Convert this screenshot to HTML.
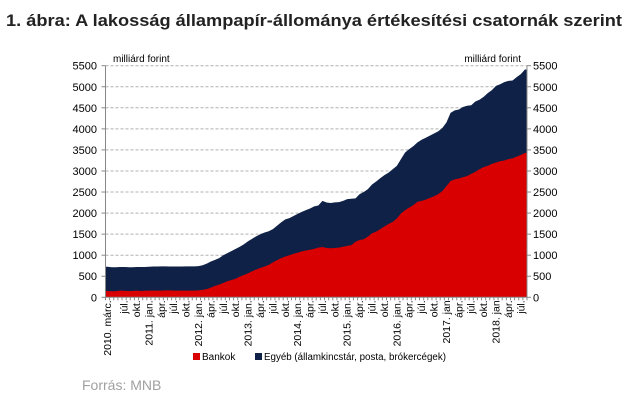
<!DOCTYPE html>
<html><head><meta charset="utf-8"><style>
body{margin:0;background:#fff;width:630px;height:405px;overflow:hidden}
svg{display:block;font-family:"Liberation Sans",sans-serif}
</style></head><body>
<svg id="c" width="630" height="405" viewBox="0 0 630 405">
<text x="6" y="26" font-size="17" font-weight="bold" fill="#222" textLength="616" lengthAdjust="spacingAndGlyphs">1. ábra: A lakosság állampapír-állománya értékesítési csatornák szerint</text>
<text x="113" y="62" font-size="10" fill="#000">milliárd forint</text>
<text x="521" y="62" font-size="10" fill="#000" text-anchor="end">milliárd forint</text>
<g id="grid"></g><g id="areas"></g><g id="axes"></g>
<g>
<rect x="193" y="353" width="7" height="7" fill="#d80000"/>
<text x="202" y="360" font-size="10">Bankok</text>
<rect x="255" y="353" width="7" height="7" fill="#0f2147"/>
<text x="264" y="360" font-size="10" textLength="182" lengthAdjust="spacingAndGlyphs">Egyéb (államkincstár, posta, brókercégek)</text>
</g>
<text x="82" y="390" font-size="14" fill="#a0a0a0">Forrás: MNB</text>
</svg>
<script>
const totalValues=[725,715,715,720,720,715,715,720,720,720,
725,730,730,735,735,730,730,730,730,735,735,735,
740,760,800,850,890,930,1000,1050,1100,1150,1200,1260,
1330,1390,1450,1500,1540,1570,1620,1700,1780,1850,1880,1930,
1980,2030,2070,2110,2160,2180,2290,2250,2240,2255,2260,2290,
2330,2340,2350,2450,2500,2570,2680,2750,2830,2900,2960,3040,
3120,3280,3440,3520,3590,3680,3740,3790,3840,3890,3940,4020,
4150,4380,4440,4460,4520,4550,4560,4650,4690,4760,4850,4920,
5020,5060,5110,5140,5150,5230,5300,5410];
const bankValues=[150,145,145,160,155,150,150,160,150,155,
160,160,160,160,165,165,160,160,160,160,160,160,
165,175,195,230,270,300,340,380,410,440,490,530,
570,620,660,700,730,770,830,880,930,970,1000,1030,
1060,1090,1110,1130,1150,1180,1195,1170,1165,1170,1180,1200,
1220,1240,1320,1360,1380,1440,1520,1560,1620,1680,1740,1790,
1870,1990,2070,2130,2190,2270,2290,2320,2360,2400,2450,2520,
2640,2760,2800,2820,2850,2880,2930,2980,3040,3090,3120,3170,
3200,3230,3250,3280,3300,3340,3380,3430];
const yTicks=[0,500,1000,1500,2000,2500,3000,3500,4000,4500,5000,5500];
const xLabelIdx=[0,4,7,10,13,16,19,22,25,28,31,34,37,40,43,46,49,52,55,58,61,64,67,70,73,76,79,82,85,88,91,94,97,100];
const xLabels=["2010. márc.","júl.","okt.","2011. jan.","ápr.","júl.","okt.","2012. jan.","ápr.","júl.","okt.","2013. jan.","ápr.","júl.","okt.","2014. jan.","ápr.","júl.","okt.","2015. jan.","ápr.","júl.","okt.","2016. jan.","ápr.","júl.","okt.","2017. jan","ápr.","júl.","okt.","2018. jan","ápr.","júl."];
const NS="http://www.w3.org/2000/svg";
const L=105.5,R=527,T=65.7,B=297.3,n=totalValues.length,step=(R-L)/n;
const X=i=>L+step*(i+0.5), Y=v=>B-(v/5500)*(B-T);
function mk(tag,attrs,parent){const e=document.createElementNS(NS,tag);for(const k in attrs)e.setAttribute(k,attrs[k]);parent.appendChild(e);return e;}
const grid=document.getElementById('grid'),areas=document.getElementById('areas'),axes=document.getElementById('axes');
yTicks.forEach(v=>{
 if(v>0){const g=mk('line',{x1:L,x2:R,y1:Y(v),y2:Y(v),stroke:'#b0b0b0','stroke-dasharray':'3,2','stroke-width':1},grid);
 
 }
 const t1=mk('text',{x:97,y:Y(v)+4,'font-size':11,'text-anchor':'end'},axes);t1.textContent=v;
 
 
 const t2=mk('text',{x:533,y:Y(v)+4,'font-size':11},axes);t2.textContent=v;
 
 
 mk('line',{x1:L-4,x2:L,y1:Y(v),y2:Y(v),stroke:'#888'},axes);
 mk('line',{x1:R,x2:R+4,y1:Y(v),y2:Y(v),stroke:'#888'},axes);
});
function areaPath(vals){let d=`M${L},${B} L${L},${Y(vals[0])}`;vals.forEach((v,i)=>d+=` L${X(i)},${Y(v)}`);d+=` L${R},${Y(vals[n-1])} L${R},${B} Z`;return d;}
const a1=mk('path',{d:areaPath(totalValues),fill:'#0f2147'},areas);


const a2=mk('path',{d:areaPath(bankValues),fill:'#d80000'},areas);


mk('line',{x1:L,x2:L,y1:T,y2:B,stroke:'#888'},axes);
mk('line',{x1:R,x2:R,y1:T,y2:B,stroke:'#888'},axes);
mk('line',{x1:L,x2:R,y1:B,y2:B,stroke:'#888'},axes);
for(let i=0;i<=n;i++)mk('line',{x1:L+step*i,x2:L+step*i,y1:B,y2:B+3,stroke:'#888'},axes);
xLabels.forEach((s,k)=>{const x=X(xLabelIdx[k])+3.5;
 const t=mk('text',{x:0,y:0,'font-size':10.5,'text-anchor':'end',transform:`translate(${x},${B+3}) rotate(-90)`},axes);t.textContent=s;
 
 
});
</script>
</body></html>
